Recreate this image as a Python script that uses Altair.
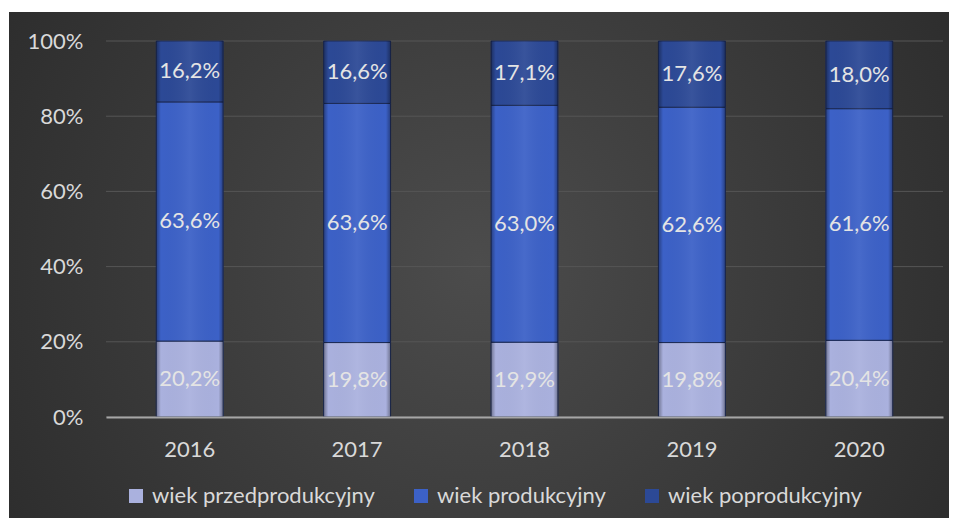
import altair as alt
import pandas as pd

years = ["2016", "2017", "2018", "2019", "2020"]
series = ["wiek przedprodukcyjny", "wiek produkcyjny", "wiek poprodukcyjny"]
przed = [20.2, 19.8, 19.9, 19.8, 20.4]
prod = [63.6, 63.6, 63.0, 62.6, 61.6]
popr = [16.2, 16.6, 17.1, 17.6, 18.0]
y_ticks = [0, 0.2, 0.4, 0.6, 0.8, 1.0]
colors = ["#aab1de", "#3c61c7", "#2c4996"]

rows = []
for i, yr in enumerate(years):
    for k, (s, vals) in enumerate(zip(series, [przed, prod, popr])):
        v = vals[i]
        rows.append({"year": yr, "series": s, "order": k, "value": v,
                     "label": f"{v:.1f}".replace(".", ",") + "%"})
df = pd.DataFrame(rows)

FONT = "Lato"
W, H = 837, 376
TXT = "#d9d9d9"

yscale = alt.Scale(domain=[0, 1], nice=False)
xscale = alt.Scale(paddingInner=0.6, paddingOuter=0.3)

base = alt.Chart(df).transform_stack(
    stack="value", groupby=["year"], sort=[alt.SortField("order", "ascending")],
    as_=["v0", "v1"], offset="normalize"
).transform_calculate(mid="(datum.v0 + datum.v1) / 2")

bg = alt.Chart(pd.DataFrame({"a": [0]})).mark_rect(
    color={"gradient": "radial", "x1": 0.5, "y1": 0.5, "r1": 0,
           "x2": 0.5, "y2": 0.5, "r2": 0.75,
           "stops": [{"offset": 0, "color": "#4c4c4c"},
                     {"offset": 1, "color": "#242424"}]}
).encode(x=alt.value(-97), x2=alt.value(843), y=alt.value(-29), y2=alt.value(477))

rules = alt.Chart(pd.DataFrame({"t": y_ticks})).mark_rule(
    color="#565656", strokeWidth=1
).encode(y=alt.Y("t:Q", scale=yscale, title=None))

bars = base.mark_bar(stroke="#1c2a55", strokeWidth=1).encode(
    x=alt.X("year:N", scale=xscale, title=None,
            axis=alt.Axis(labelAngle=0, labelFontSize=22, labelColor=TXT,
                          labelFont=FONT, labelPadding=22, ticks=False, tickSize=0,
                          domainColor="#a6a6a6", domainWidth=2, grid=False, zindex=1)),
    y=alt.Y("v0:Q", scale=yscale, title=None,
            axis=alt.Axis(values=y_ticks, format=".0%", labelFontSize=22,
                          labelColor=TXT, labelFont=FONT, labelPadding=23,
                          domain=False, ticks=False, tickSize=0, grid=False, zindex=1)),
    y2="v1:Q",
    color=alt.Color("series:N", scale=alt.Scale(domain=series, range=colors),
                    legend=alt.Legend(orient="none", legendX=19, legendY=444,
                                      direction="horizontal", title=None,
                                      symbolType="square", symbolSize=196,
                                      symbolStrokeWidth=0, labelFontSize=22,
                                      labelColor=TXT, labelFont=FONT, labelLimit=0,
                                      columnPadding=35, labelOffset=5)),
)

overlay = base.mark_bar(
    color={"gradient": "linear", "x1": 0, "y1": 0, "x2": 1, "y2": 0,
           "stops": [{"offset": 0, "color": "rgba(0,0,0,0.35)"},
                     {"offset": 0.07, "color": "rgba(0,0,0,0)"},
                     {"offset": 0.5, "color": "rgba(255,255,255,0.06)"},
                     {"offset": 0.93, "color": "rgba(0,0,0,0)"},
                     {"offset": 1, "color": "rgba(0,0,0,0.35)"}]}
).encode(x=alt.X("year:N", scale=xscale, title=None),
         y=alt.Y("v0:Q", scale=yscale, title=None), y2="v1:Q")

text = base.mark_text(font=FONT, fontSize=22, color="#e4e4e4", baseline="middle").encode(
    x=alt.X("year:N", scale=xscale, title=None),
    y=alt.Y("mid:Q", scale=yscale, title=None),
    text="label:N",
)

chart = alt.layer(bg, rules, bars, overlay, text).properties(
    width=W, height=H,
    padding={"left": 98, "top": 33, "right": 6, "bottom": 101},
    autosize=alt.AutoSizeParams(type="none"),
).configure(font=FONT, background="white").configure_view(stroke=None)

chart.save("out.html", embed_options={"renderer": "svg", "actions": False})
